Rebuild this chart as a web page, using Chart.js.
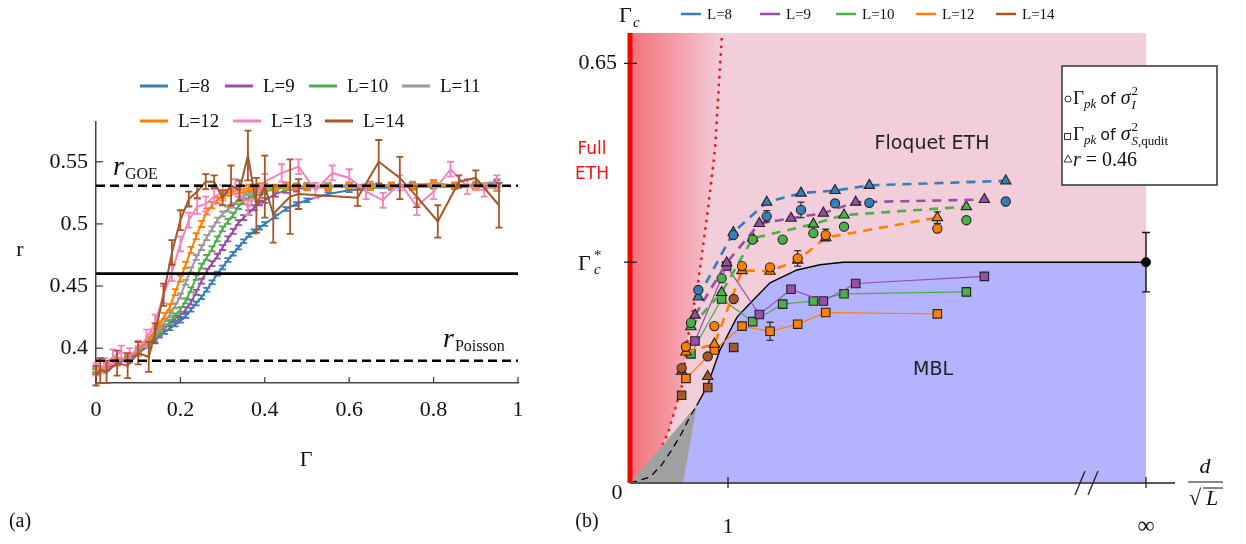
<!DOCTYPE html>
<html lang="en">
<head>
<meta charset="UTF-8">
<title>Level statistics and phase diagram</title>
<script src="https://cdn.jsdelivr.net/npm/chart.js@4"></script>
<style>
  body { margin: 0; background: #fff; }
  #wrap { position: relative; width: 1246px; height: 544px; }
  canvas { position: absolute; left: 0; top: 0; }
</style>
</head>
<body>
<div id="wrap">
  <canvas id="chartA" width="1246" height="544"></canvas>
  <canvas id="chartB" width="1246" height="544"></canvas>
</div>
<script>
// ---------- panel (a) data: r versus Gamma ----------
const GAMMA = [0, 0.025, 0.05, 0.075, 0.1, 0.125, 0.1375, 0.15, 0.1625, 0.175, 0.1875, 0.2, 0.2125, 0.225, 0.2375,
  0.25, 0.2625, 0.275, 0.2875, 0.3, 0.3125, 0.325, 0.3375, 0.35, 0.3625, 0.375, 0.3875, 0.4, 0.425, 0.45, 0.475,
  0.5, 0.55, 0.6, 0.65, 0.7, 0.75, 0.8, 0.85, 0.9, 0.95];
const R_L8 = [0.382, 0.385, 0.388, 0.391, 0.396, 0.402, 0.406, 0.410, 0.413, 0.416, 0.419, 0.422, 0.426, 0.431, 0.436,
  0.441, 0.447, 0.453, 0.460, 0.465, 0.471, 0.476, 0.481, 0.486, 0.491, 0.494, 0.497, 0.500, 0.506, 0.512, 0.516,
  0.519, 0.524, 0.527, 0.529, 0.529, 0.530, 0.530, 0.530, 0.530, 0.531];
const R_L9 = [0.381, 0.384, 0.388, 0.391, 0.396, 0.403, 0.408, 0.412, 0.416, 0.420, 0.424, 0.427, 0.431, 0.437, 0.445,
  0.454, 0.462, 0.468, 0.474, 0.481, 0.488, 0.494, 0.501, 0.505, 0.509, 0.513, 0.517, 0.519, 0.524, 0.527, 0.528,
  0.529, 0.530, 0.530, 0.530, 0.531, 0.531, 0.531, 0.531, 0.531, 0.533];
const R_L10 = [0.382, 0.386, 0.389, 0.392, 0.397, 0.405, 0.409, 0.413, 0.417, 0.421, 0.426, 0.431, 0.438, 0.447, 0.457,
  0.466, 0.473, 0.480, 0.488, 0.496, 0.502, 0.507, 0.514, 0.518, 0.521, 0.523, 0.525, 0.526, 0.528, 0.529, 0.530,
  0.530, 0.530, 0.531, 0.530, 0.531, 0.530, 0.531, 0.530, 0.530, 0.529];
const R_L11 = [0.383, 0.386, 0.389, 0.393, 0.398, 0.406, 0.411, 0.416, 0.421, 0.427, 0.434, 0.442, 0.453, 0.463, 0.473,
  0.481, 0.489, 0.496, 0.503, 0.508, 0.512, 0.515, 0.520, 0.523, 0.525, 0.526, 0.527, 0.528, 0.529, 0.530, 0.530,
  0.531, 0.531, 0.531, 0.532, 0.531, 0.532, 0.532, 0.531, 0.532, 0.534];
const R_L12 = [0.381, 0.385, 0.390, 0.393, 0.399, 0.407, 0.413, 0.419, 0.426, 0.433, 0.445, 0.456, 0.467, 0.479, 0.490,
  0.500, 0.510, 0.515, 0.519, 0.523, 0.525, 0.526, 0.527, 0.528, 0.529, 0.529, 0.530, 0.530, 0.529, 0.531, 0.530,
  0.530, 0.529, 0.531, 0.530, 0.531, 0.530, 0.533, 0.531, 0.530, 0.529];
const ERR_L8 = 0.0015, ERR_L9 = 0.002, ERR_L10 = 0.002, ERR_L11 = 0.002, ERR_L12 = 0.0025;

const GAMMA_L13 = [0, 0.02, 0.04, 0.06, 0.08, 0.1, 0.12, 0.14, 0.16, 0.18, 0.2, 0.22, 0.24, 0.26, 0.28, 0.3, 0.33, 0.36,
  0.4, 0.44, 0.48, 0.52, 0.56, 0.6, 0.64, 0.68, 0.72, 0.76, 0.8, 0.84, 0.88, 0.92, 0.95];
const R_L13 = [0.383, 0.386, 0.393, 0.397, 0.394, 0.400, 0.408, 0.420, 0.443, 0.461, 0.484, 0.503, 0.514, 0.516, 0.522,
  0.525, 0.530, 0.513, 0.534, 0.541, 0.546, 0.527, 0.541, 0.537, 0.526, 0.519, 0.533, 0.514, 0.526, 0.544, 0.530,
  0.527, 0.533];
const ERR_L13 = [0.005, 0.006, 0.006, 0.005, 0.006, 0.006, 0.007, 0.007, 0.007, 0.007, 0.006, 0.006, 0.006, 0.006, 0.006,
  0.006, 0.006, 0.006, 0.006, 0.007, 0.006, 0.006, 0.006, 0.007, 0.006, 0.006, 0.006, 0.007, 0.006, 0.006, 0.006,
  0.005, 0.006];

const GAMMA_L14 = [0, 0.01, 0.025, 0.05, 0.075, 0.1, 0.125, 0.14, 0.16, 0.18, 0.2, 0.22, 0.24, 0.26, 0.28, 0.3, 0.32,
  0.34, 0.36, 0.38, 0.4, 0.42, 0.46, 0.48, 0.62, 0.67, 0.72, 0.76, 0.81, 0.86, 0.9, 0.955];
const R_L14 = [0.378, 0.382, 0.381, 0.388, 0.386, 0.396, 0.393, 0.412, 0.443, 0.477, 0.503, 0.520, 0.526, 0.534, 0.534,
  0.521, 0.531, 0.527, 0.555, 0.515, 0.530, 0.508, 0.522, 0.524, 0.521, 0.550, 0.537, 0.522, 0.502, 0.534, 0.537, 0.515];
const ERR_L14 = [0.008, 0.01, 0.009, 0.01, 0.01, 0.009, 0.012, 0.008, 0.009, 0.01, 0.008, 0.006, 0.005, 0.006, 0.005,
  0.006, 0.016, 0.008, 0.02, 0.022, 0.025, 0.023, 0.03, 0.012, 0.0065, 0.0175, 0.017, 0.0085, 0.013, 0.005, 0.006, 0.018];

const R_GOE = 0.5307, R_CRIT = 0.46, R_POISSON = 0.39;
const X_TICKS_A = [0, 0.2, 0.4, 0.6, 0.8, 1];
const Y_TICKS_A = [0.4, 0.45, 0.5, 0.55];

// ---------- panel (b) data: Gamma_c versus d / sqrt(L) ----------
const X_L8 = [0.697, 1.054, 1.395, 1.745, 2.092, 2.442, 3.834];
const TRI_L8 = [0.288, 0.388, 0.435, 0.449, 0.453, 0.461, 0.468];
const CIRC_L8 = [0.299, 0.384, 0.413, 0.423, 0.433, 0.434, 0.436];
const CIRC_ERR_L8 = [0, 0, 0.009, 0.012, 0, 0, 0];

const X_L9 = [0.663, 0.986, 1.320, 1.643, 1.973, 2.303, 3.616];
const TRI_L9 = [0.260, 0.341, 0.402, 0.410, 0.418, 0.435, 0.439];
const SQ_L9 = [0.220, 0.336, 0.261, 0.300, 0.282, 0.309, 0.320];

const X_L10 = [0.622, 0.935, 1.252, 1.558, 1.871, 2.184, 3.432];
const TRI_L10 = [0.242, 0.295, 0.379, null, 0.401, 0.415, 0.428];
const CIRC_L10 = [0.248, 0.317, 0.377, 0.377, 0.387, 0.397, 0.407];
const SQ_L10 = [0.200, 0.285, 0.250, 0.277, 0.282, 0.293, 0.296];

const X_L12 = [0.571, 0.861, 1.143, 1.429, 1.711, 1.997, 3.136];
const TRI_L12 = [0.203, 0.215, 0.329, 0.328, 0.345, 0.380, 0.411];
const TRI_ERR_L12 = [0, 0, 0, 0, 0, 0, 0.009];
const CIRC_L12 = [0.211, 0.243, 0.336, 0.334, 0.348, 0.384, 0.394];
const CIRC_ERR_L12 = [0, 0, 0, 0, 0.012, 0.009, 0];
const SQ_L12 = [0.162, 0.206, 0.243, 0.235, 0.246, 0.264, 0.262];
const SQ_ERR_L12 = [0, 0, 0, 0.014, 0, 0, 0];

const X_L14 = [0.527, 0.793, 1.058];
const TRI_L14 = [0.173, 0.165, null];
const CIRC_L14 = [0.178, 0.196, 0.285];
const SQ_L14 = [0.136, 0.148, 0.210];

// phase boundaries
const MBL_X = [0.541, 0.68, 0.786, 0.918, 1.092, 1.255, 1.429, 1.704, 1.939, 2.173, 5.265];
const MBL_Y = [0, 0.12, 0.149, 0.206, 0.257, 0.283, 0.310, 0.330, 0.338, 0.342, 0.342];
const LOW_X = [0, 0.204, 0.323, 0.425, 0.527, 0.612, 0.68];
const LOW_Y = [0, 0.009, 0.028, 0.051, 0.077, 0.103, 0.12];
const GRAY_X = [0, 0.68, 0.70];
const GRAY_Y = [0, 0.12, 0];
const ETH_X = [0, 0.102, 0.221, 0.306, 0.391, 0.477, 0.528, 0.592, 0.694, 0.786, 0.867, 0.939];
const ETH_Y = [0, 0.006, 0.024, 0.049, 0.079, 0.123, 0.149, 0.226, 0.310, 0.412, 0.516, 0.697];
const X_INF = 5.265;
const GAMMA_C_STAR = 0.342, GAMMA_C_STAR_ERR = 0.046;
const Y_TOP_B = 0.697, X_MAX_B = 5.561;

// ---------- helpers ----------
const SERIF = "'Liberation Serif', 'DejaVu Serif', serif";
const SANS = "'DejaVu Sans', 'Liberation Sans', sans-serif";
const C = { blue: '#377eb8', purple: '#984ea3', green: '#4daf4a', gray: '#999999', orange: '#ff7f00', pink: '#f781bf', brown: '#a65628' };
const PINK_BG = 'rgb(242,206,219)', MBL_BLUE = 'rgb(179,179,255)', GRAY_FILL = 'rgb(160,160,160)';

function pts(xs, ys, errs) {
  const out = [];
  xs.forEach((x, i) => {
    if (ys[i] === null) return;
    const e = Array.isArray(errs) ? errs[i] : (errs || 0);
    out.push({ x: x, y: ys[i], e: e });
  });
  return out;
}

function txt(ctx, s, x, y, font, color, align, baseline) {
  ctx.font = font;
  ctx.fillStyle = color || '#111';
  ctx.textAlign = align || 'left';
  ctx.textBaseline = baseline || 'alphabetic';
  ctx.fillText(s, x, y);
  return ctx.measureText(s).width;
}

function line(ctx, x0, y0, x1, y1, color, w) {
  ctx.beginPath();
  ctx.strokeStyle = color; ctx.lineWidth = w;
  ctx.moveTo(x0, y0); ctx.lineTo(x1, y1);
  ctx.stroke();
}

// error bars drawn through the chart scales
const errorBars = {
  id: 'errorBars',
  beforeDatasetDraw(chart, args) { drawErr(chart, args.index, true); },
  afterDatasetDraw(chart, args) { drawErr(chart, args.index, false); }
};
function drawErr(chart, index, before) {
  const ds = chart.data.datasets[index];
  if (!ds.errCap || !!ds.errBefore !== before) return;
  const ctx = chart.ctx, xs = chart.scales.x, ys = chart.scales.y;
  ctx.save();
  ctx.setLineDash([]);
  ctx.strokeStyle = ds.errColor || ds.borderColor;
  ctx.lineWidth = ds.errWidth || 1.5;
  ds.data.forEach(p => {
    if (!p.e) return;
    const px = xs.getPixelForValue(p.x);
    const y0 = ys.getPixelForValue(p.y - p.e), y1 = ys.getPixelForValue(p.y + p.e);
    ctx.beginPath();
    ctx.moveTo(px, y0); ctx.lineTo(px, y1);
    ctx.moveTo(px - ds.errCap, y0); ctx.lineTo(px + ds.errCap, y0);
    ctx.moveTo(px - ds.errCap, y1); ctx.lineTo(px + ds.errCap, y1);
    ctx.stroke();
  });
  ctx.restore();
}

// ---------- panel (a) ----------
const seriesA = [
  { label: 'L=8', color: C.blue, x: GAMMA, y: R_L8, e: ERR_L8 },
  { label: 'L=9', color: C.purple, x: GAMMA, y: R_L9, e: ERR_L9 },
  { label: 'L=10', color: C.green, x: GAMMA, y: R_L10, e: ERR_L10 },
  { label: 'L=11', color: C.gray, x: GAMMA, y: R_L11, e: ERR_L11 },
  { label: 'L=12', color: C.orange, x: GAMMA, y: R_L12, e: ERR_L12 },
  { label: 'L=13', color: C.pink, x: GAMMA_L13, y: R_L13, e: ERR_L13 },
  { label: 'L=14', color: C.brown, x: GAMMA_L14, y: R_L14, e: ERR_L14 }
];

const datasetsA = seriesA.map((s, i) => ({
  label: s.label,
  data: pts(s.x, s.y, s.e),
  borderColor: s.color,
  borderWidth: 2,
  pointRadius: 0,
  tension: 0,
  errCap: 3.5,
  errWidth: 1.8,
  order: 20 - i
}));
function refLine(v, dash, w) {
  return { data: [{ x: 0, y: v }, { x: 1, y: v }], borderColor: '#000', borderWidth: w, borderDash: dash, pointRadius: 0, order: 0 };
}
datasetsA.push(refLine(R_GOE, [9, 5], 2.5), refLine(R_CRIT, [], 2.8), refLine(R_POISSON, [9, 5], 2.5));

const decorA = {
  id: 'decorA',
  afterDraw(chart) {
    const ctx = chart.ctx, xs = chart.scales.x, ys = chart.scales.y, a = chart.chartArea;
    ctx.save();
    // inward tick marks
    X_TICKS_A.forEach(v => { const p = xs.getPixelForValue(v); line(ctx, p, a.bottom, p, a.bottom - 6, '#444', 1.3); });
    Y_TICKS_A.forEach(v => { const p = ys.getPixelForValue(v); line(ctx, a.left, p, a.left + 7, p, '#444', 1.3); });
    // axis titles and labels
    txt(ctx, 'r', 20, 250, '22px ' + SERIF, '#111', 'center', 'middle');
    txt(ctx, 'Γ', 306, 460, '22px ' + SERIF, '#111', 'center', 'middle');
    txt(ctx, '(a)', 20, 522, '20px ' + SERIF, '#111', 'center', 'middle');
    let w = txt(ctx, 'r', 113, 175, 'italic 28px ' + SERIF);
    txt(ctx, 'GOE', 113 + w + 1, 179, '16px ' + SERIF);
    w = txt(ctx, 'r', 443, 347, 'italic 28px ' + SERIF);
    txt(ctx, 'Poisson', 443 + w + 1, 351, '16px ' + SERIF);
    // legend
    const spots = [[140, 86], [225, 86], [309, 86], [402, 86], [140, 121], [233, 121], [325, 121]];
    seriesA.forEach((s, i) => {
      const [lx, ly] = spots[i];
      line(ctx, lx, ly, lx + 28, ly, s.color, 3);
      txt(ctx, s.label, lx + 38, ly + 1, '19px ' + SERIF, '#111', 'left', 'middle');
    });
    ctx.restore();
  }
};

new Chart(document.getElementById('chartA'), {
  type: 'line',
  data: { datasets: datasetsA },
  options: {
    responsive: false,
    animation: false,
    events: [],
    layout: { padding: { left: 0, right: 728, top: 122, bottom: 0 } },
    plugins: { legend: { display: false }, tooltip: { enabled: false } },
    scales: {
      x: {
        type: 'linear', min: 0, max: 1,
        afterFit: s => { s.height = 161; },
        afterBuildTicks: s => { s.ticks = X_TICKS_A.map(v => ({ value: v })); },
        grid: { display: false, drawTicks: false },
        border: { color: '#444', width: 1.5 },
        ticks: { padding: 14, color: '#111', font: { family: SERIF, size: 22 }, callback: v => String(+v.toFixed(2)) }
      },
      y: {
        type: 'linear', min: 0.372, max: 0.582,
        afterFit: s => { s.width = 96; },
        afterBuildTicks: s => { s.ticks = Y_TICKS_A.map(v => ({ value: v })); },
        grid: { display: false, drawTicks: false },
        border: { color: '#444', width: 1.5 },
        ticks: { padding: 8, color: '#111', font: { family: SERIF, size: 22 }, callback: v => String(+v.toFixed(2)) }
      }
    }
  },
  plugins: [errorBars, decorA]
});

// ---------- panel (b) ----------
const seriesB = [
  { label: 'L=8', color: C.blue, x: X_L8, tri: TRI_L8, circ: CIRC_L8, circErr: CIRC_ERR_L8 },
  { label: 'L=9', color: C.purple, x: X_L9, tri: TRI_L9, sq: SQ_L9 },
  { label: 'L=10', color: C.green, x: X_L10, tri: TRI_L10, circ: CIRC_L10, sq: SQ_L10 },
  { label: 'L=12', color: C.orange, x: X_L12, tri: TRI_L12, triErr: TRI_ERR_L12, circ: CIRC_L12, circErr: CIRC_ERR_L12, sq: SQ_L12, sqErr: SQ_ERR_L12 },
  { label: 'L=14', color: C.brown, x: X_L14, tri: TRI_L14, circ: CIRC_L14, sq: SQ_L14, noLines: true }
];

const datasetsB = [
  { data: [{ x: 0, y: Y_TOP_B }, { x: X_INF, y: Y_TOP_B }], borderWidth: 0, pointRadius: 0, fill: 'origin', backgroundColor: PINK_BG, order: 100 },
  {
    data: pts(ETH_X, ETH_Y), borderColor: '#ff1010', borderWidth: 2.8, borderDash: [0.1, 7.5], borderCapStyle: 'round',
    pointRadius: 0, fill: 'end', order: 90,
    backgroundColor: c => {
      const ch = c.chart;
      if (!ch.chartArea) return PINK_BG;
      const xs = ch.scales.x;
      const g = ch.ctx.createLinearGradient(xs.getPixelForValue(0), 0, xs.getPixelForValue(0.95), 0);
      g.addColorStop(0, 'rgb(245,114,120)');
      g.addColorStop(0.5, 'rgb(244,158,168)');
      g.addColorStop(1, PINK_BG);
      return g;
    }
  },
  { data: pts(GRAY_X, GRAY_Y), borderWidth: 0, pointRadius: 0, fill: 'origin', backgroundColor: GRAY_FILL, order: 80 },
  { data: pts(MBL_X, MBL_Y), borderWidth: 0, pointRadius: 0, fill: 'origin', backgroundColor: MBL_BLUE, order: 70 },
  { data: pts(MBL_X.slice(1), MBL_Y.slice(1)), borderColor: '#000', borderWidth: 1.4, pointRadius: 0, order: 60 },
  { data: pts(LOW_X, LOW_Y), borderColor: '#000', borderWidth: 1.3, borderDash: [7, 5], pointRadius: 0, order: 60 },
  { data: [{ x: 0, y: 0 }, { x: 0, y: Y_TOP_B }], borderColor: '#ff0000', borderWidth: 5, pointRadius: 0, clip: false, order: 55 }
];

seriesB.forEach(s => {
  if (s.sq) datasetsB.push({
    data: pts(s.x, s.sq, s.sqErr), showLine: !s.noLines, borderColor: s.color, borderWidth: 1.2,
    pointStyle: 'rect', pointRadius: 6, pointBackgroundColor: s.color, pointBorderColor: '#222', pointBorderWidth: 1.1,
    errCap: 3.5, errColor: '#333', errWidth: 1.3, errBefore: true, order: 30
  });
  if (s.tri) datasetsB.push({
    data: pts(s.x, s.tri, s.triErr), showLine: !s.noLines, spanGaps: true, borderColor: s.color, borderWidth: 2.6, borderDash: [9, 7],
    pointStyle: 'triangle', pointRadius: 6, pointBackgroundColor: s.color, pointBorderColor: '#222', pointBorderWidth: 1.1,
    errCap: 3.5, errColor: '#333', errWidth: 1.3, errBefore: true, order: 25
  });
  if (s.circ) datasetsB.push({
    data: pts(s.x, s.circ, s.circErr), showLine: false, borderColor: s.color,
    pointStyle: 'circle', pointRadius: 4.6, pointBackgroundColor: s.color, pointBorderColor: '#222', pointBorderWidth: 1.1,
    errCap: 3.5, errColor: '#333', errWidth: 1.3, errBefore: true, order: 20
  });
});
datasetsB.push({
  data: [{ x: X_INF, y: GAMMA_C_STAR, e: GAMMA_C_STAR_ERR }], showLine: false, borderColor: '#000',
  pointRadius: 4.5, pointBackgroundColor: '#000', pointBorderColor: '#000', clip: false,
  errCap: 4, errColor: '#111', errWidth: 1.4, order: 5
});

const decorB = {
  id: 'decorB',
  afterDraw(chart) {
    const ctx = chart.ctx, xs = chart.scales.x, ys = chart.scales.y, a = chart.chartArea;
    ctx.save();
    // horizontal axis with break and ticks
    line(ctx, a.left, a.bottom, a.right, a.bottom, '#555', 2);
    const x1 = xs.getPixelForValue(1), xInf = xs.getPixelForValue(X_INF);
    line(ctx, x1, a.bottom - 6, x1, a.bottom + 5, '#222', 1.3);
    line(ctx, xInf, a.bottom - 6, xInf, a.bottom + 5, '#222', 1.3);
    line(ctx, 1075, a.bottom + 12, 1085, a.bottom - 12, '#222', 1.3);
    line(ctx, 1088, a.bottom + 12, 1098, a.bottom - 12, '#222', 1.3);
    txt(ctx, '1', x1, 527, '22px ' + SERIF, '#111', 'center', 'middle');
    txt(ctx, '∞', xInf, 527, '24px ' + SERIF, '#111', 'center', 'middle');
    txt(ctx, '0', 617, 493, '22px ' + SERIF, '#111', 'center', 'middle');
    // vertical ticks and labels
    const y65 = ys.getPixelForValue(0.65), yStar = ys.getPixelForValue(GAMMA_C_STAR);
    line(ctx, a.left - 6, y65, a.left + 7, y65, '#222', 1.3);
    line(ctx, a.left - 6, yStar, a.left + 7, yStar, '#222', 1.3);
    txt(ctx, '0.65', 617, y65, '22px ' + SERIF, '#111', 'right', 'middle');
    txt(ctx, 'Γ', 578, yStar + 8, '22px ' + SERIF);
    txt(ctx, '*', 594, yStar - 2, '15px ' + SERIF);
    txt(ctx, 'c', 594, yStar + 12, 'italic 15px ' + SERIF);
    txt(ctx, 'Γ', 619, 22, '22px ' + SERIF);
    txt(ctx, 'c', 633, 27, 'italic 15px ' + SERIF);
    // d / sqrt(L)
    txt(ctx, 'd', 1205, 473, 'italic 22px ' + SERIF, '#111', 'center');
    line(ctx, 1188, 482, 1223, 482, '#111', 1);
    txt(ctx, '√', 1189, 505, '22px ' + SERIF);
    line(ctx, 1203, 488, 1223, 488, '#111', 1);
    txt(ctx, 'L', 1206, 505, 'italic 22px ' + SERIF);
    // region labels
    txt(ctx, 'Full', 592, 150, '17px ' + SANS, '#f01515', 'center', 'middle');
    txt(ctx, 'ETH', 592, 175, '17px ' + SANS, '#f01515', 'center', 'middle');
    txt(ctx, 'Floquet ETH', 932, 144, '19px ' + SANS, '#222', 'center', 'middle');
    txt(ctx, 'MBL', 933, 370, '19px ' + SANS, '#222', 'center', 'middle');
    txt(ctx, '(b)', 587, 522, '20px ' + SERIF, '#111', 'center', 'middle');
    // top legend
    const lx = [681, 760, 836, 916, 996];
    seriesB.forEach((s, i) => {
      line(ctx, lx[i], 14, lx[i] + 20, 14, s.color, 2.5);
      txt(ctx, s.label, lx[i] + 26, 15, '15px ' + SERIF, '#111', 'left', 'middle');
    });
    // marker legend box
    ctx.fillStyle = '#fff';
    ctx.fillRect(1062, 66, 155, 119);
    ctx.strokeStyle = '#333'; ctx.lineWidth = 1.5;
    ctx.strokeRect(1062, 66, 155, 119);
    ctx.lineWidth = 1;
    ctx.beginPath(); ctx.arc(1068, 99, 3, 0, Math.PI * 2); ctx.stroke();
    ctx.strokeRect(1064.5, 133.5, 6, 6);
    ctx.beginPath(); ctx.moveTo(1064, 162); ctx.lineTo(1072, 162); ctx.lineTo(1068, 155); ctx.closePath(); ctx.stroke();
    [[104, 'I'], [140, 'S']].forEach(([by, sub], k) => {
      let x = 1073;
      x += txt(ctx, 'Γ', x, by, '19px ' + SERIF);
      x += txt(ctx, 'pk', x, by + 4, 'italic 13px ' + SERIF) + 4;
      x += txt(ctx, 'of', x, by, '16px ' + SANS) + 5;
      x += txt(ctx, 'σ', x, by, 'italic 20px ' + SERIF) + 1;
      txt(ctx, '2', x, by - 9, '13px ' + SERIF);
      const w = txt(ctx, sub, x, by + 5, 'italic 13px ' + SERIF);
      if (k === 1) txt(ctx, ',qudit', x + w, by + 5, '13px ' + SERIF);
    });
    let x3 = 1073;
    x3 += txt(ctx, 'r', x3, 166, 'italic 20px ' + SERIF) + 5;
    txt(ctx, '= 0.46', x3, 166, '20px ' + SERIF);
    ctx.restore();
  }
};

new Chart(document.getElementById('chartB'), {
  type: 'line',
  data: { datasets: datasetsB },
  options: {
    responsive: false,
    animation: false,
    events: [],
    layout: { padding: { left: 630, right: 71, top: 33, bottom: 61 } },
    plugins: { legend: { display: false }, tooltip: { enabled: false } },
    elements: { line: { tension: 0 } },
    scales: {
      x: { type: 'linear', min: 0, max: X_MAX_B, display: false },
      y: { type: 'linear', min: 0, max: Y_TOP_B, display: false }
    }
  },
  plugins: [errorBars, decorB]
});
</script>
</body>
</html>
